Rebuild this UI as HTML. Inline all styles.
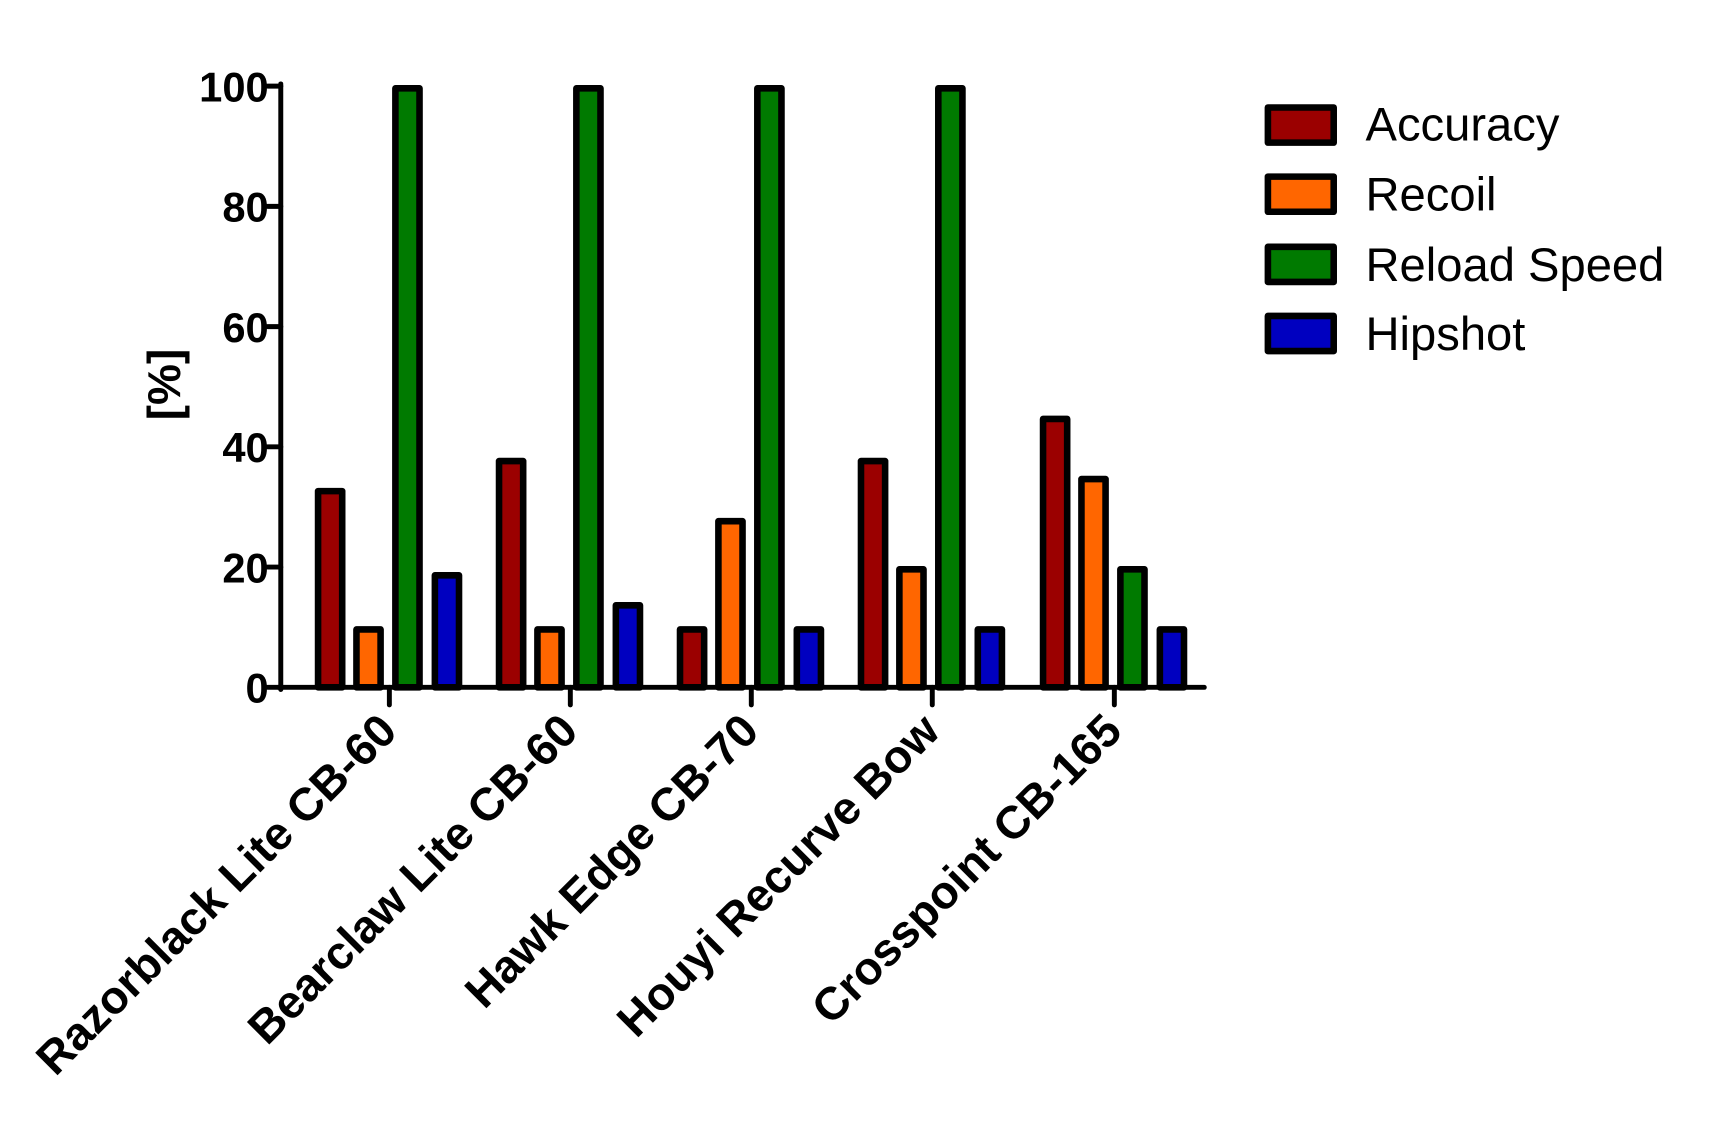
<!DOCTYPE html>
<html><head><meta charset="utf-8"><style>
html,body{margin:0;padding:0;background:#fff;}
svg{display:block;}
text{font-family:"Liberation Sans",Arial,sans-serif;}
</style></head><body>
<svg width="1711" height="1130" viewBox="0 0 1560 1030" preserveAspectRatio="none" xmlns="http://www.w3.org/2000/svg">
<rect width="1560" height="1030" fill="#fff"/>
<g transform="translate(-2,-1.5)">
<g stroke="#000" stroke-width="4.5" stroke-linecap="round">
<line x1="258" y1="78" x2="258" y2="630"/>
<line x1="256" y1="628" x2="1100" y2="628"/>
<line x1="246" y1="80" x2="258" y2="80"/>
<line x1="246" y1="189.6" x2="258" y2="189.6"/>
<line x1="246" y1="299.2" x2="258" y2="299.2"/>
<line x1="246" y1="408.8" x2="258" y2="408.8"/>
<line x1="246" y1="518.4" x2="258" y2="518.4"/>
<line x1="246" y1="628" x2="258" y2="628"/>
<line x1="357" y1="628" x2="357" y2="644"/>
<line x1="522" y1="628" x2="522" y2="644"/>
<line x1="687" y1="628" x2="687" y2="644"/>
<line x1="852" y1="628" x2="852" y2="644"/>
<line x1="1018" y1="628" x2="1018" y2="644"/>
</g>
<g font-weight="bold" font-size="38" text-anchor="end" fill="#000">
<text x="247" y="94">100</text>
<text x="247" y="203.6">80</text>
<text x="247" y="313.2">60</text>
<text x="247" y="422.8">40</text>
<text x="247" y="532.4">20</text>
<text x="247" y="642">0</text>
</g>
<text transform="translate(166,352) rotate(-90)" font-weight="bold" font-size="42" text-anchor="middle">[%]</text>
<g stroke="#000" stroke-width="6" stroke-linejoin="round" id="bars"></g>
<g font-weight="bold" font-size="42" text-anchor="end" fill="#000">
<text transform="translate(366,670) rotate(-45)">Razorblack Lite CB-60</text>
<text transform="translate(531,670) rotate(-45)">Bearclaw Lite CB-60</text>
<text transform="translate(696,670) rotate(-45)">Hawk Edge CB-70</text>
<text transform="translate(861,670) rotate(-45)">Houyi Recurve Bow</text>
<text transform="translate(1027,670) rotate(-45)">Crosspoint CB-165</text>
</g>
</g>
<g stroke="#000" stroke-width="6" stroke-linejoin="round">
<rect x="1156" y="98" width="60" height="32" fill="#9b0000"/>
<rect x="1156" y="161" width="60" height="32" fill="#ff6600"/>
<rect x="1156" y="225" width="60" height="32" fill="#007a00"/>
<rect x="1156" y="288" width="60" height="32" fill="#0000c0"/>
</g>
<g font-size="43" fill="#000">
<text x="1245" y="128">Accuracy</text>
<text x="1245" y="192">Recoil</text>
<text x="1245" y="256">Reload Speed</text>
<text x="1245" y="319">Hipshot</text>
</g>
<script>
var d=[[33,10,100,19],[38,10,100,14],[10,28,100,10],[38,20,100,10],[45,35,20,10]];
var c=["#9b0000","#ff6600","#007a00","#0000c0"];
var ticks=[357,522,687,852,1018],off=[-54,-19,16.5,52.5];
var g=document.getElementById("bars"),ns="http://www.w3.org/2000/svg";
d.forEach(function(r,i){r.forEach(function(v,j){
var cx=ticks[i]+off[j],top=628-v*5.48;
var e=document.createElementNS(ns,"rect");
e.setAttribute("x",cx-11);e.setAttribute("width",22);
e.setAttribute("y",top+2);e.setAttribute("height",628-top-2);
e.setAttribute("fill",c[j]);g.appendChild(e);});});
</script>
</svg>
</body></html>
